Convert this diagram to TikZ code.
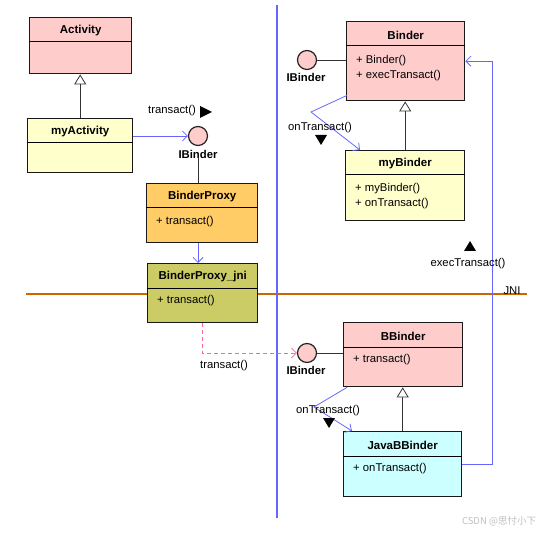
\documentclass[tikz,border=0pt]{standalone}
\usepackage{fontspec}
\setmainfont{Liberation Sans}
\newfontfamily\cjkfont{Noto Sans CJK SC}
\usepackage{xcolor}
\usepackage{tikz}
\usetikzlibrary{positioning,arrows.meta,calc}

\definecolor{pinkfill}{HTML}{FFCCCC}
\definecolor{creamfill}{HTML}{FFFFCC}
\definecolor{orangefill}{HTML}{FFCC66}
\definecolor{olivefill}{HTML}{CCCC66}
\definecolor{cyanfill}{HTML}{CCFFFF}
\definecolor{callblue}{HTML}{6666FF}
\definecolor{jnibrown}{HTML}{CC6600}
\definecolor{rpcpink}{HTML}{FF6699}

\tikzset{
  classbox/.style={draw=black!90, line width=1.4pt, rectangle, inner sep=0pt},
  classname/.style={font=\bfseries\fontsize{11.5}{13}\selectfont, inner sep=0pt},
  member/.style={font=\fontsize{11.3}{13}\selectfont, anchor=west, inner sep=0pt},
  msg/.style={font=\fontsize{11.3}{13}\selectfont, inner sep=0pt},
  ifname/.style={font=\bfseries\fontsize{11.3}{13}\selectfont, inner sep=0pt},
  lollipop/.style={circle, draw=black!85, line width=1.2pt, fill=pinkfill, minimum size=19pt, inner sep=0pt},
  call/.style={draw=callblue, line width=0.8pt, -{Straight Barb[length=5pt,width=10pt]}},
  rpc/.style={draw=rpcpink, line width=0.8pt, dash pattern=on 4pt off 3pt, -{Straight Barb[length=5pt,width=10pt]}},
  inherit/.style={draw=black!80, line width=0.8pt, -{Triangle[open,length=10pt,width=12pt,fill=white]}},
  realize/.style={draw=black!80, line width=0.9pt},
  jniline/.style={draw=jnibrown, line width=2.5pt},
  procline/.style={draw=callblue, line width=1.6pt},
}

% box with a header band: name, fill, x, y, width, height, title
\newcommand{\umlclass}[7]{%
  \node[classbox, fill=#2, minimum width=#5pt, minimum height=#6pt, anchor=north west] (#1) at (#3,#4) {};
  \draw[line width=1pt] ($(#1.north west)+(0,25)$) -- ($(#1.north east)+(0,25)$);
  \node[classname] (#1-name) at ($(#1.north)+(0,14)$) {#7};
}

\begin{document}
\begin{tikzpicture}[x=1pt,y=-1pt]
\useasboundingbox (0,0) rectangle (540,534);

% JNI border and process border
\coordinate (jniL) at (26,294);
\coordinate (jniR) at (527,294);
\draw[jniline] (jniL) -- (jniR);
\node[msg] (jnitext) at (512,291) {JNI};
\coordinate (procTop) at (277,5);
\coordinate (procBot) at (277,518);
\draw[procline] (procTop) -- (procBot);

% client side
\umlclass{activity}{pinkfill}{29}{17}{102}{56}{Activity}
\umlclass{myact}{creamfill}{27}{118}{105}{54}{myActivity}
\umlclass{proxy}{orangefill}{146}{183}{111}{59}{BinderProxy}
\node[member] (proxy-m1) at ($(proxy.north west)+(10,39)$) {+ transact()};
\umlclass{jni}{olivefill}{147}{263}{110}{59}{BinderProxy\_jni}
\node[member] (jni-m1) at ($(jni.north west)+(10,38)$) {+ transact()};

\node[lollipop] (ib1) at (198,136) {};
\node[ifname] (ib1-l) at (198,154) {IBinder};

\draw[inherit] (myact.north) -- (myact.north |- activity.south);
\draw[call] (ib1 -| myact.east) -- (ib1);
\node[msg] (msg1) at (172,111) {transact()};
\fill (200,106) -- (212,112) -- (200,118) -- cycle;
\draw[realize] (ib1-l.south) -- (ib1-l.south |- proxy.north);
\draw[call] (ib1-l.south |- proxy.south) -- (ib1-l.south |- jni.north);

% service side
\umlclass{binder}{pinkfill}{346}{21}{118}{79}{Binder}
\node[member] (binder-m1) at ($(binder.north west)+(10,39.5)$) {+ Binder()};
\node[member] (binder-m2) at ($(binder.north west)+(10,54.5)$) {+ execTransact()};
\umlclass{mybinder}{creamfill}{345}{150}{119}{70}{myBinder}
\node[member] (mybinder-m1) at ($(mybinder.north west)+(10,39)$) {+ myBinder()};
\node[member] (mybinder-m2) at ($(mybinder.north west)+(10,54)$) {+ onTransact()};

\node[lollipop] (ib2) at (307,60) {};
\node[ifname] (ib2-l) at (306,77) {IBinder};
\draw[realize] (ib2) -- (ib2 -| binder.west);

\draw[inherit] (mybinder.north) -- (mybinder.north |- binder.south);
\coordinate (bend1) at (311,112);
\draw[call] ($(binder.south west)+(1,-6)$) -- (bend1) -- ($(mybinder.north west)+(15,0)$);
\node[msg] (msg2) at (320,128) {onTransact()};
\fill (315,135) -- (327,135) -- (321,145) -- cycle;

% native side
\umlclass{bbinder}{pinkfill}{343}{322}{119}{64}{BBinder}
\node[member] (bbinder-m1) at ($(bbinder.north west)+(10,38)$) {+ transact()};
\umlclass{javabb}{cyanfill}{343}{431}{118}{65}{JavaBBinder}
\node[member] (javabb-m1) at ($(javabb.north west)+(10,38)$) {+ onTransact()};

\node[lollipop] (ib3) at (307,353) {};
\node[ifname] (ib3-l) at (306,370) {IBinder};
\draw[realize] (ib3) -- (ib3 -| bbinder.west);

\coordinate (rpcstart) at ($(jni.south west)+(55,0)$);
\draw[rpc] (rpcstart) |- (ib3);
\node[msg] (msg3) at (224,366) {transact()};

\draw[inherit] (javabb.north) -- (javabb.north |- bbinder.south);
\coordinate (bend2) at (314,407);
\draw[call] ($(bbinder.south west)+(4,0)$) -- (bend2) -- ($(javabb.north west)+(9,0)$);
\node[msg] (msg4) at (328,411) {onTransact()};
\fill (323,418) -- (335,418) -- (329,428) -- cycle;

% callback up into java
\draw[call] (javabb.east) -- ++(30,0) |- (binder.east);
\node[msg] (msg5) at (468,264) {execTransact()};
\fill (464,251) -- (476,251) -- (470,241) -- cycle;

\node[text=black!25, font=\cjkfont\fontsize{9.5}{11}\selectfont, inner sep=0pt] (mark) at (499,521) {CSDN @思忖小下};
\end{tikzpicture}
\end{document}
